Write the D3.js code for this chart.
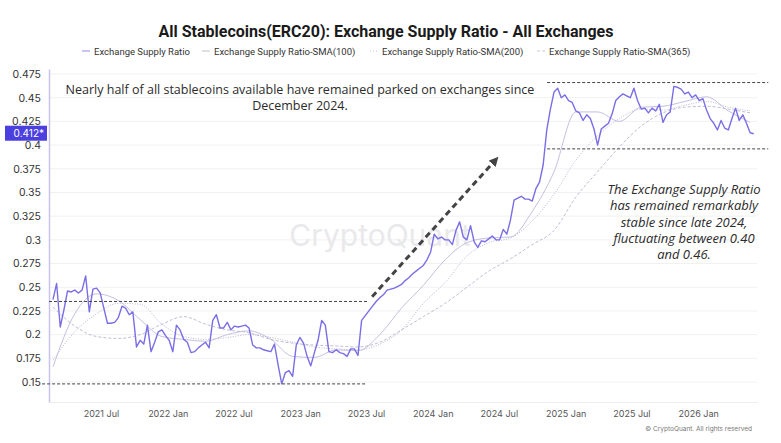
<!DOCTYPE html>
<html>
<head>
<meta charset="utf-8">
<script src="https://cdn.jsdelivr.net/npm/d3@7"></script>
<style>
  body { margin: 0; background: #fff; }
  svg { display: block; font-family: "Inter", "Roboto", sans-serif; }
</style>
</head>
<body>
<div id="chart"></div>
<script>
// ---- data ----
var seriesNames = ["Exchange Supply Ratio", "Exchange Supply Ratio-SMA(100)",
                   "Exchange Supply Ratio-SMA(200)", "Exchange Supply Ratio-SMA(365)"];

// daily ratio, sampled every 10 days from ratioStart
var ratioStart = "2021-02-19", ratioStepDays = 10;
var ratio = [
  0.237, 0.254, 0.208, 0.226, 0.246, 0.245, 0.247, 0.244, 0.247, 0.262,
  0.224, 0.248, 0.249, 0.244, 0.228, 0.212, 0.212, 0.213, 0.218, 0.230,
  0.228, 0.221, 0.224, 0.187, 0.194, 0.190, 0.210, 0.182, 0.192, 0.203,
  0.205, 0.199, 0.194, 0.182, 0.210, 0.205, 0.195, 0.192, 0.181, 0.182,
  0.186, 0.189, 0.192, 0.186, 0.215, 0.221, 0.207, 0.207, 0.213, 0.205,
  0.209, 0.208, 0.209, 0.210, 0.207, 0.189, 0.186, 0.186, 0.184, 0.183,
  0.182, 0.190, 0.168, 0.148, 0.160, 0.162, 0.156, 0.189, 0.197, 0.191,
  0.177, 0.167, 0.181, 0.194, 0.215, 0.210, 0.182, 0.181, 0.184, 0.181,
  0.180, 0.177, 0.185, 0.185, 0.178, 0.215, 0.220, 0.225, 0.230, 0.235,
  0.239, 0.242, 0.247, 0.248, 0.249, 0.251, 0.253, 0.257, 0.260, 0.264,
  0.267, 0.270, 0.273, 0.279, 0.287, 0.306, 0.301, 0.303, 0.300, 0.300,
  0.295, 0.310, 0.319, 0.303, 0.300, 0.315, 0.298, 0.292, 0.299, 0.298,
  0.301, 0.304, 0.300, 0.300, 0.311, 0.306, 0.321, 0.342, 0.344, 0.346,
  0.343, 0.343, 0.341, 0.354, 0.361, 0.379, 0.416, 0.438, 0.456, 0.460,
  0.450, 0.453, 0.447, 0.445, 0.436, 0.434, 0.426, 0.432, 0.428, 0.417,
  0.400, 0.417, 0.420, 0.423, 0.433, 0.447, 0.451, 0.454, 0.452, 0.450,
  0.460, 0.447, 0.438, 0.439, 0.434, 0.439, 0.436, 0.443, 0.424, 0.432,
  0.435, 0.462, 0.461, 0.459, 0.454, 0.456, 0.450, 0.453, 0.447, 0.449,
  0.437, 0.428, 0.423, 0.416, 0.426, 0.418, 0.416, 0.428, 0.439, 0.426,
  0.432, 0.423, 0.413, 0.412
];

// moving averages, read every 60 days from smaStart
var smaStart = "2021-02-19", smaStepDays = 60;
var sma100 = [0.166, 0.222, 0.243, 0.236, 0.216, 0.198, 0.195, 0.193, 0.200, 0.204,
              0.195, 0.177, 0.176, 0.184, 0.183, 0.200, 0.228, 0.252, 0.279, 0.297,
              0.302, 0.303, 0.330, 0.372, 0.435, 0.435, 0.425, 0.440, 0.441, 0.446,
              0.451, 0.436, 0.424];
var sma200 = [0.173, 0.203, 0.222, 0.233, 0.232, 0.211, 0.198, 0.195, 0.197, 0.200,
              0.197, 0.192, 0.187, 0.185, 0.184, 0.190, 0.205, 0.233, 0.255, 0.283,
              0.297, 0.302, 0.320, 0.348, 0.384, 0.410, 0.428, 0.438, 0.437, 0.442,
              0.446, 0.440, 0.436];
var sma365 = [0.229, 0.209, 0.198, 0.196, 0.200, 0.211, 0.219, 0.211, 0.205, 0.202,
              0.195, 0.191, 0.189, 0.188, 0.187, 0.192, 0.205, 0.219, 0.233, 0.250,
              0.267, 0.280, 0.295, 0.310, 0.345, 0.372, 0.398, 0.420, 0.434, 0.440,
              0.441, 0.438, 0.434];

var xTicks = ["2021-07-01", "2022-01-01", "2022-07-01", "2023-01-01", "2023-07-01",
              "2024-01-01", "2024-07-01", "2025-01-01", "2025-07-01", "2026-01-01"];
var yTicks = [0.15, 0.175, 0.2, 0.225, 0.25, 0.275, 0.3, 0.325, 0.35, 0.375, 0.4, 0.425, 0.45, 0.475];
var lastLabel = "0.412*", lastValue = 0.412;

// dashed range markers and the trend arrow
var levels = [
  {from: "2021-02-08", to: "2023-07-04", value: 0.235},
  {from: "2021-01-20", to: "2023-07-04", value: 0.148},
  {from: "2024-11-11", to: "2026-07-13", value: 0.466},
  {from: "2024-11-11", to: "2026-07-13", value: 0.396}
];
var arrow = {from: "2023-07-18", v0: 0.240, to: "2024-06-21", v1: 0.384};

var parse = d3.timeParse("%Y-%m-%d");

// set the dimensions (plot box in pixels)
var W = 781, H = 443,
    plotLeft = 49, plotRight = 757, plotTop = 69, plotBottom = 402;

var svg = d3.select("#chart")
  .append("svg")
    .attr("width", W)
    .attr("height", H);

var x = d3.scaleTime()
  .domain([parse("2021-02-08"), parse("2026-06-12")])
  .range([plotLeft, plotRight]);
var y = d3.scaleLinear()
  .domain([0.1289, 0.4803])
  .range([plotBottom, plotTop]);

function toPoints(start, step, vals) {
  var s = parse(start);
  return vals.map(function(v, i) { return {date: d3.timeDay.offset(s, i * step), value: v}; });
}

// title + legend
svg.append("text")
  .attr("x", 386).attr("y", 37)
  .attr("text-anchor", "middle")
  .style("font-family", "Roboto, sans-serif")
  .style("font-size", "16px").style("font-weight", "bold").style("fill", "#1a1a1a")
  .text("All Stablecoins(ERC20): Exchange Supply Ratio - All Exchanges");

var legendX = [82, 202, 370, 537];
var legendDash = [null, null, "1,2", "3,2"];
var legendColor = ["#a49ce8", "#c9c9d6", "#c9c9d6", "#c9c9d6"];
var legend = svg.append("g");
seriesNames.forEach(function(name, i) {
  legend.append("line")
    .attr("x1", legendX[i]).attr("x2", legendX[i] + 8)
    .attr("y1", 51).attr("y2", 51)
    .attr("stroke", legendColor[i]).attr("stroke-width", 1.2)
    .attr("stroke-dasharray", legendDash[i]);
  legend.append("text")
    .attr("x", legendX[i] + 12).attr("y", 54.5)
    .style("font-family", "Roboto, sans-serif")
    .style("font-size", "9.5px").style("fill", "#333")
    .text(name);
});

// horizontal grid
svg.append("g").selectAll("line")
  .data(yTicks)
  .enter().append("line")
    .attr("x1", plotLeft).attr("x2", plotRight)
    .attr("y1", function(d) { return y(d); })
    .attr("y2", function(d) { return y(d); })
    .attr("stroke", "#f1f1f4");

// watermark
svg.append("text")
  .attr("x", 380).attr("y", 246)
  .attr("text-anchor", "middle")
  .style("font-size", "30px").style("fill", "#e9e9ec")
  .text("CryptoQuant");

// Y axis
var yAxis = svg.append("g")
  .attr("transform", "translate(" + plotLeft + ",0)")
  .call(d3.axisLeft(y).tickValues(yTicks).tickSize(0).tickPadding(8).tickFormat(d3.format("~g")));
yAxis.select(".domain").attr("stroke", "#c7c2ee").attr("stroke-width", 1.5);
yAxis.selectAll("text").style("font-size", "10.5px").style("fill", "#333")
  .style("font-family", "Inter, Roboto, sans-serif");

// X axis
var xAxis = svg.append("g")
  .attr("transform", "translate(0," + plotBottom + ")")
  .call(d3.axisBottom(x).tickValues(xTicks.map(parse)).tickSize(0).tickPadding(9)
    .tickFormat(d3.timeFormat("%Y %b")));
xAxis.select(".domain").attr("stroke", "#eeeeee");
xAxis.selectAll("text").style("font-size", "9px").style("fill", "#555")
  .style("font-family", "Inter, Roboto, sans-serif");

// lines
var line = d3.line()
  .x(function(d) { return x(d.date); })
  .y(function(d) { return y(d.value); });
var smooth = d3.line()
  .curve(d3.curveMonotoneX)
  .x(function(d) { return x(d.date); })
  .y(function(d) { return y(d.value); });

var smaSets = [
  {vals: sma365, dash: "3,2", color: "#b8b5cc"},
  {vals: sma200, dash: "1,1.5", color: "#b3afd0"},
  {vals: sma100, dash: null, color: "#bdb8dd"}
];
smaSets.forEach(function(s) {
  svg.append("path")
    .datum(toPoints(smaStart, smaStepDays, s.vals))
    .attr("fill", "none")
    .attr("stroke", s.color)
    .attr("stroke-width", 0.9)
    .attr("stroke-dasharray", s.dash)
    .attr("d", smooth);
});

svg.append("path")
  .datum(toPoints(ratioStart, ratioStepDays, ratio))
  .attr("fill", "none")
  .attr("stroke", "#7a6ee6")
  .attr("stroke-width", 1.4)
  .attr("stroke-linejoin", "round")
  .attr("d", line);

// dashed range markers
svg.append("g").selectAll("line")
  .data(levels)
  .enter().append("line")
    .attr("x1", function(d) { return x(parse(d.from)); })
    .attr("x2", function(d) { return x(parse(d.to)); })
    .attr("y1", function(d) { return y(d.value); })
    .attr("y2", function(d) { return y(d.value); })
    .attr("stroke", "#444")
    .attr("stroke-width", 1)
    .attr("stroke-dasharray", "3,2");

// trend arrow
svg.append("defs").append("marker")
  .attr("id", "head")
  .attr("viewBox", "0 0 10 10")
  .attr("refX", 5).attr("refY", 5)
  .attr("markerWidth", 3.2).attr("markerHeight", 3.2)
  .attr("orient", "auto")
  .append("path")
    .attr("d", "M0,0 L10,5 L0,10 z")
    .attr("fill", "#444");
svg.append("line")
  .attr("x1", x(parse(arrow.from))).attr("y1", y(arrow.v0))
  .attr("x2", x(parse(arrow.to))).attr("y2", y(arrow.v1))
  .attr("stroke", "#444")
  .attr("stroke-width", 3)
  .attr("stroke-dasharray", "6,4")
  .attr("marker-end", "url(#head)");

// last value label
svg.append("rect")
  .attr("x", 5).attr("y", y(lastValue) - 8)
  .attr("width", 42).attr("height", 15)
  .attr("fill", "#4b3fe0");
svg.append("text")
  .attr("x", 44).attr("y", y(lastValue) + 3.5)
  .attr("text-anchor", "end")
  .style("font-size", "10px").style("fill", "#fff")
  .text(lastLabel);

// annotations
var note1 = ["Nearly half of all stablecoins available have remained parked on exchanges since",
             "December 2024."];
svg.append("text")
  .attr("text-anchor", "middle")
  .style("font-size", "12.5px").style("fill", "#2b2b2b")
  .style("font-family", "'Open Sans', sans-serif")
  .selectAll("tspan")
  .data(note1)
  .enter().append("tspan")
    .attr("x", 300)
    .attr("y", function(d, i) { return 94 + i * 16; })
    .text(function(d) { return d; });

var note2 = ["The Exchange Supply Ratio", "has remained remarkably", "stable since late 2024,",
             "fluctuating between 0.40", "and 0.46."];
svg.append("text")
  .attr("text-anchor", "middle")
  .style("font-size", "13px").style("font-style", "italic").style("fill", "#2b2b2b")
  .style("font-family", "'Open Sans', sans-serif")
  .selectAll("tspan")
  .data(note2)
  .enter().append("tspan")
    .attr("x", 684)
    .attr("y", function(d, i) { return 194 + i * 16.3; })
    .text(function(d) { return d; });

svg.append("text")
  .attr("x", 752).attr("y", 431)
  .attr("text-anchor", "end")
  .style("font-size", "6.5px").style("fill", "#777")
  .text("© CryptoQuant. All rights reserved");
</script>
</body>
</html>
